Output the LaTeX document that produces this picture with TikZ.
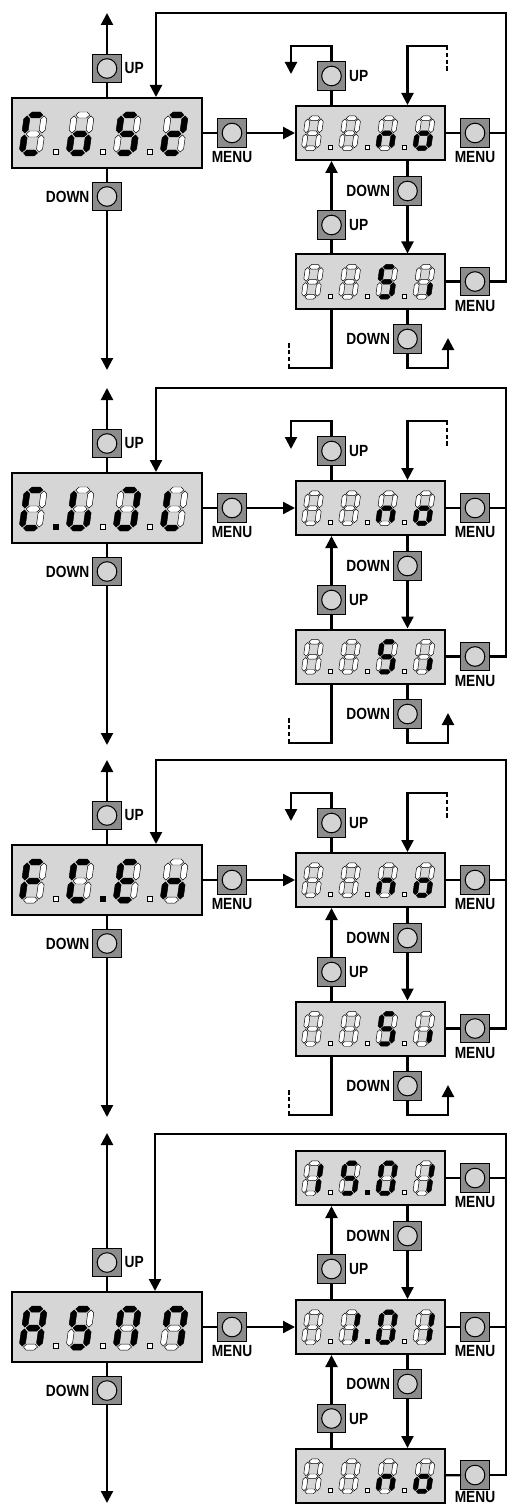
\documentclass[tikz,border=0pt]{standalone}
\usepackage{fontspec}
\usepackage{xstring}
\newfontfamily\btnfont[FakeStretch=0.85]{Liberation Sans Bold}
\definecolor{lcdgray}{RGB}{214,214,214}
\definecolor{btngray}{RGB}{140,140,140}
\definecolor{btnface}{RGB}{212,212,212}
\usetikzlibrary{arrows.meta,positioning,calc}
\tikzset{
  mainlcd/.style={draw, line width=0.5mm, fill=lcdgray, minimum width=47.5mm,
                  minimum height=17.5mm, inner sep=0pt},
  sublcd/.style={draw, line width=0.5mm, fill=lcdgray, minimum width=37.25mm,
                 minimum height=13.5mm, inner sep=0pt},
  btn/.style={draw, line width=0.25mm, fill=btngray, minimum size=7.2mm, inner sep=0pt,
              path picture={\draw[fill=btnface, line width=0.25mm]
                (path picture bounding box.center) circle (2.45mm);}},
  btnlbl/.style={font=\btnfont\fontsize{11.5pt}{11.5pt}\selectfont, inner sep=0pt},
  wire/.style={line width=0.55mm, line cap=rect},
  flow/.style={-{Triangle[length=3mm, width=3mm]}},
  dashwire/.style={line width=0.55mm, dash pattern=on 1.1mm off 0.6mm},
  seg/.style={fill=#1, draw=black, line width=0.12mm},
}

% segments lit in each glyph
\def\glblank{x}
\def\glC{a,d,e,f}
\def\glo{c,d,e,g}
\def\glS{a,c,d,f,g}
\def\gltwo{a,b,d,e,g}
\def\glLU{c,d,e,f}
\def\glRU{a,b,c,d,e}
\def\glL{d,e,f}
\def\glF{a,e,f,g}
\def\glE{a,d,e,f,g}
\def\gln{c,e,g}
\def\glA{a,b,c,e,f,g}
\def\glMl{a,b,c,e,f}
\def\glMr{a,b,c,f}
\def\glone{b,c}
\def\glzero{a,b,c,d,e,f}
\def\gli{c}

% one seven-segment digit: origin, scale, lit segments
\newcommand{\segdigit}[3]{%
  \begin{scope}[shift={#1}, x=0.25mm, y=0.25mm, scale=#2, xslant=0.14]
    \foreach \sg/\cx/\cy/\rot/\hl in {a/8.5/38/0/7, b/17/28.5/90/8.6, c/17/9.5/90/8.6,
        d/8.5/0/0/7, e/0/9.5/90/8.6, f/0/28.5/90/8.6, g/8.5/19/0/7}{
      \IfSubStr{#3}{\sg}{\def\segfill{black}}{\def\segfill{white}}
      \path[seg=\segfill, shift={(\cx,\cy)}, rotate=\rot]
        (-\hl,0) -- (3-\hl,3) -- (\hl-3,3) -- (\hl,0) -- (\hl-3,-3) -- (3-\hl,-3) -- cycle;
    }
  \end{scope}}

% four digits and three dots inside a display: node, scale, glyphs, lit dots
\newcommand{\lcdrow}[4]{%
  \foreach \gl [count=\k from 0] in {#3}{
    \segdigit{($(#1.south west)+(11*#2+47*#2*\k,-16*#2)$)}{#2}{\gl}
  }
  \foreach \k in {0,1,2}{
    \IfSubStr{#4}{\k}{\def\dpfill{black}}{\def\dpfill{white}}
    \path[seg=\dpfill] ($(#1.south west)+(11*#2+47*#2*\k+31*#2,-14.5*#2)$) rectangle +(5*#2,-5*#2);
  }}

% menu entry with its no / si choice: top of main display, tag, glyphs, lit dots
\newcommand{\yesnoblock}[4]{%
  % main display
  \node[mainlcd] (m#2) at (107,#1+35) {};
  \lcdrow{m#2}{1}{#3}{#4}
  \node[btn] (m#2up) at (107,#1-29.5) {};
  \node[btnlbl, right=0.6mm of m#2up] (m#2upl) {UP};
  \node[btn] (m#2dn) at (107,#1+98.5) {};
  \node[btnlbl, left=0.6mm of m#2dn] (m#2dnl) {DOWN};
  \node[btn] (m#2menu) at (232,#1+35) {};
  \node[btnlbl, below=0.9mm of m#2menu] (m#2menul) {MENU};
  \coordinate (m#2top) at (107,#1-85);
  \coordinate (m#2bot) at (107,#1+272);
  \coordinate (r#2) at (506,#1-85);
  % no / si displays
  \node[sublcd] (n#2) at (370.5,#1+35) {};
  \lcdrow{n#2}{0.79}{\glblank,\glblank,\gln,\glo}{}
  \node[sublcd] (s#2) at (370.5,#1+183.5) {};
  \lcdrow{s#2}{0.79}{\glblank,\glblank,\glS,\gli}{}
  \node[btn] (n#2up) at (331.5,#1-22) {};
  \node[btnlbl, right=0.6mm of n#2up] (n#2upl) {UP};
  \node[btn] (n#2menu) at (475,#1+35) {};
  \node[btnlbl, below=0.9mm of n#2menu] (n#2menul) {MENU};
  \node[btn] (n#2dn) at (407.5,#1+93) {};
  \node[btnlbl, left=0.6mm of n#2dn] (n#2dnl) {DOWN};
  \node[btn] (s#2up) at (331.5,#1+127) {};
  \node[btnlbl, right=0.6mm of s#2up] (s#2upl) {UP};
  \node[btn] (s#2menu) at (475,#1+183.5) {};
  \node[btnlbl, below=0.9mm of s#2menu] (s#2menul) {MENU};
  \node[btn] (s#2dn) at (407.5,#1+241) {};
  \node[btnlbl, left=0.6mm of s#2dn] (s#2dnl) {DOWN};
  % hook ends
  \coordinate (h#2a) at (331.5,#1-52);
  \coordinate (h#2b) at (291,#1-24);
  \coordinate (h#2c) at (447,#1-52);
  \coordinate (h#2d) at (447,#1-26);
  \coordinate (h#2e) at (289,#1+270);
  \coordinate (h#2f) at (289,#1+243);
  \coordinate (h#2g) at (448,#1+270);
  \coordinate (h#2h) at (448,#1+240);
  % connectors
  \draw[wire] (m#2) -- (m#2up);
  \draw[wire, flow] (m#2up) -- (m#2top);
  \draw[wire] (m#2) -- (m#2dn);
  \draw[wire, flow] (m#2dn) -- (m#2bot);
  \draw[wire] (m#2) -- (m#2menu);
  \draw[wire, flow] (m#2menu) -- (n#2);
  \draw[wire, flow] (s#2menu) -| (r#2) -| ($(m#2.north)+(49,0)$);
  \draw[wire] (n#2) -- (n#2menu) -- (n#2menu -| r#2);
  \draw[wire] (s#2) -- (s#2menu);
  \draw[wire] (n#2.north -| n#2up) -- (n#2up);
  \draw[wire, flow] (n#2up) -- (h#2a) -| (h#2b);
  \draw[wire, flow] (h#2c) -| (n#2.north -| n#2dn);
  \draw[dashwire] (h#2c) -- (h#2d);
  \draw[wire] (n#2.south -| n#2dn) -- (n#2dn);
  \draw[wire, flow] (n#2dn) -- (s#2.north -| n#2dn);
  \draw[wire] (s#2.north -| s#2up) -- (s#2up);
  \draw[wire, flow] (s#2up) -- (n#2.south -| s#2up);
  \draw[wire] (s#2.south -| s#2dn) -- (s#2dn);
  \draw[wire, flow] (s#2dn) |- (h#2g) -- (h#2h);
  \draw[wire] (s#2.south -| s#2up) |- (h#2e);
  \draw[dashwire] (h#2e) -- (h#2f);
}

\begin{document}
\begin{tikzpicture}[x=0.25mm, y=-0.25mm]
\useasboundingbox (0,0) rectangle (507,1504);

% CoS2
\yesnoblock{98}{1}{\glC,\glo,\glS,\gltwo}{}
% second entry
\yesnoblock{473}{2}{\glC,\glLU,\glRU,\glL}{0}
% FC.En
\yesnoblock{845}{3}{\glF,\glC,\glE,\gln}{1}

% ASM main display
\node[mainlcd] (m4) at (107,1327) {};
\lcdrow{m4}{1}{\glA,\glS,\glMl,\glMr}{}
\node[btn] (m4up) at (107,1262.5) {};
\node[btnlbl, right=0.6mm of m4up] (m4upl) {UP};
\node[btn] (m4dn) at (107,1390.5) {};
\node[btnlbl, left=0.6mm of m4dn] (m4dnl) {DOWN};
\node[btn] (m4menu) at (232,1327) {};
\node[btnlbl, below=0.9mm of m4menu] (m4menul) {MENU};
\coordinate (m4top) at (107,1133);
\coordinate (m4bot) at (107,1503);
\coordinate (r4) at (506,1134);

% ASM values
\node[sublcd] (t4) at (370.5,1178) {};
\lcdrow{t4}{0.79}{\glone,\glS,\glzero,\glone}{1}
\node[sublcd] (c4) at (370.5,1327) {};
\lcdrow{c4}{0.79}{\glblank,\glone,\glzero,\glone}{1}
\node[sublcd] (b4) at (370.5,1476) {};
\lcdrow{b4}{0.79}{\glblank,\glblank,\gln,\glo}{}
\node[btn] (t4menu) at (475,1178) {};
\node[btnlbl, below=0.9mm of t4menu] (t4menul) {MENU};
\node[btn] (c4menu) at (475,1327) {};
\node[btnlbl, below=0.9mm of c4menu] (c4menul) {MENU};
\node[btn] (b4menu) at (475,1475) {};
\node[btnlbl, below=0.3mm of b4menu] (b4menul) {MENU};
\node[btn] (t4dn) at (407.5,1236) {};
\node[btnlbl, left=0.6mm of t4dn] (t4dnl) {DOWN};
\node[btn] (c4up) at (331.5,1269) {};
\node[btnlbl, right=0.6mm of c4up] (c4upl) {UP};
\node[btn] (c4dn) at (407.5,1384) {};
\node[btnlbl, left=0.6mm of c4dn] (c4dnl) {DOWN};
\node[btn] (b4up) at (331.5,1418.5) {};
\node[btnlbl, right=0.6mm of b4up] (b4upl) {UP};

\draw[wire] (m4) -- (m4up);
\draw[wire, flow] (m4up) -- (m4top);
\draw[wire] (m4) -- (m4dn);
\draw[wire, flow] (m4dn) -- (m4bot);
\draw[wire] (m4) -- (m4menu);
\draw[wire, flow] (m4menu) -- (c4);
\draw[wire, flow] (b4menu) -| (r4) -| ($(m4.north)+(48,0)$);
\draw[wire] (t4) -- (t4menu) -- (t4menu -| r4);
\draw[wire] (c4) -- (c4menu) -- (c4menu -| r4);
\draw[wire] (b4) -- (b4menu);
\draw[wire] (t4.south -| t4dn) -- (t4dn);
\draw[wire, flow] (t4dn) -- (c4.north -| t4dn);
\draw[wire] (c4.north -| c4up) -- (c4up);
\draw[wire, flow] (c4up) -- (t4.south -| c4up);
\draw[wire] (c4.south -| c4dn) -- (c4dn);
\draw[wire, flow] (c4dn) -- (b4.north -| c4dn);
\draw[wire] (b4.north -| b4up) -- (b4up);
\draw[wire, flow] (b4up) -- (c4.south -| b4up);

\end{tikzpicture}
\end{document}
